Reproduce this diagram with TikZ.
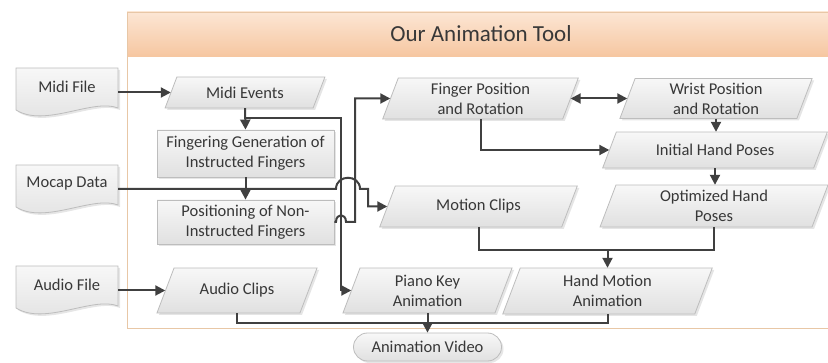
\documentclass[tikz,border=0pt]{standalone}
\usepackage{fontspec}
\setmainfont{Carlito}
\usetikzlibrary{arrows.meta,shadows,calc}
\definecolor{conncol}{HTML}{404040}
\definecolor{txt}{HTML}{383838}
\definecolor{bord}{HTML}{BDBDBD}
\definecolor{frameb}{HTML}{E8C7A6}
\definecolor{headtop}{HTML}{FCE6D4}
\definecolor{headbot}{HTML}{F6C6A0}
\tikzset{
  shapebox/.style={draw=bord, line width=0.8pt, top color=white!97!black, bottom color=white!88!black,
    drop shadow={opacity=0.2, shadow xshift=2pt, shadow yshift=-2pt}},
  boxtext/.style={inner sep=1pt, text=txt, font=\fontsize{16.5}{20}\selectfont, align=center},
  conn/.style={draw=conncol, line width=2pt, -{Triangle[length=10pt,width=10pt]}},
  plainconn/.style={draw=conncol, line width=2pt},
}
\newcommand\para[6]{%
  \path[shapebox] ({#2-#4/2-0.19*#5},{#3+#5/2}) -- ({#2-#4/2+0.19*#5},{#3-#5/2}) --
    ({#2+#4/2+0.19*#5},{#3-#5/2}) -- ({#2+#4/2-0.19*#5},{#3+#5/2}) -- cycle;
  \node[boxtext, minimum width=#4, minimum height=#5] (#1) at (#2,#3) {#6};
}
\newcommand\docnode[4]{%
  \path[shapebox] ({#2-51},{#3}) -- ({#2+51},{#3}) -- ({#2+51},{#3+40})
    .. controls ({#2+26},{#3+30}) and ({#2-22},{#3+60}) .. ({#2-51},{#3+42}) -- cycle;
  \node[boxtext, minimum width=102, minimum height=38] (#1) at ({#2},{#3+19}) {#4};
}
\begin{document}
\begin{tikzpicture}[x=1pt,y=-1pt]
\useasboundingbox (0,0) rectangle (828,363);
\clip (0,0) rectangle (828,363);
% frame
\fill[white] (127,12) rectangle (840,328);
\path[top color=headtop, bottom color=headbot] (127,12) rectangle (840,57);
\draw[frameb, line width=0.8pt] (127,12) rectangle (840,328);
\node[font=\fontsize{23}{26}\selectfont, text=txt] (title) at (481,34) {Our Animation Tool};
% documents
\docnode{midifile}{67}{68}{Midi File}
\docnode{mocap}{67}{165}{Mocap Data}
\docnode{audiofile}{67}{266}{Audio File}
% parallelograms
\para{midievents}{245}{92.5}{148}{31}{Midi Events}
\para{finger}{480.5}{98.5}{180}{41}{Finger Position\\and Rotation}
\para{wrist}{716}{98.5}{177}{40}{Wrist Position\\and Rotation}
\para{initial}{715}{150}{211}{36}{Initial Hand Poses}
\para{optimized}{714}{206}{212}{42}{Optimized Hand\\Poses}
\para{motion}{478.5}{206.5}{182}{41}{Motion Clips}
\para{audioclips}{237}{290.5}{143}{45}{Audio Clips}
\para{piano}{427.5}{290.5}{152}{45}{Piano Key\\Animation}
\para{handmotion}{607.5}{291}{192}{46}{Hand Motion\\Animation}
% rectangles
\node[shapebox, boxtext, minimum width=177, minimum height=47] (fingering) at (245.5,153.5) {Fingering Generation of\\Instructed Fingers};
\node[shapebox, boxtext, minimum width=177, minimum height=44] (positioning) at (245.5,222) {Positioning of Non-\\Instructed Fingers};
\node[shapebox, boxtext, rounded corners=14pt, minimum width=148, minimum height=28] (video) at (427.5,347) {Animation Video};
% coordinates
\coordinate (j1) at (245,118);
\coordinate (v1) at (341,118);
\coordinate (hopA) at (336,189);
\coordinate (hopB) at (360,189);
\coordinate (stepc) at (368,189);
\coordinate (hopC) at (336,222);
\coordinate (hopD) at (346,222);
\coordinate (riser) at (355,222);
\coordinate (m1) at (607.5,250);
\coordinate (b1) at (427.5,323);
% connectors
\draw[conn] (midifile.east |- midievents.west) -- (midievents.west);
\draw[conn] (midievents.south) -- (fingering.north);
\draw[conn] (j1) -- (v1) |- (piano.west);
\draw[conn] (fingering.south) -- (positioning.north);
\draw[conn] (positioning.east) -- (hopC) .. controls +(0,-9) and +(0,-9) .. (hopD) -- (riser) |- (finger.west);
\draw[conn] ([yshift=-5pt]mocap.east) -- (hopA) .. controls +(0,-15) and +(0,-15) .. (hopB) -- (stepc) |- (motion.west);
\draw[conn] (audiofile.east |- audioclips.west) -- (audioclips.west);
\draw[conn, {Triangle[length=10pt,width=10pt]}-{Triangle[length=10pt,width=10pt]}] (finger.east) -- (finger.east -| wrist.west);
\draw[conn] (wrist.south) -- (wrist.south |- initial.north);
\draw[conn] (finger.south) |- (initial.west);
\draw[conn] (initial.south) -- (initial.south |- optimized.north);
\draw[plainconn] (motion.south) |- (m1);
\draw[plainconn] (optimized.south) |- (m1);
\draw[conn] (m1) -- (handmotion.north);
\draw[plainconn] (audioclips.south) |- (b1);
\draw[plainconn] (handmotion.south) |- (b1);
\draw[conn] (piano.south) -- (video.north);
\end{tikzpicture}
\end{document}
